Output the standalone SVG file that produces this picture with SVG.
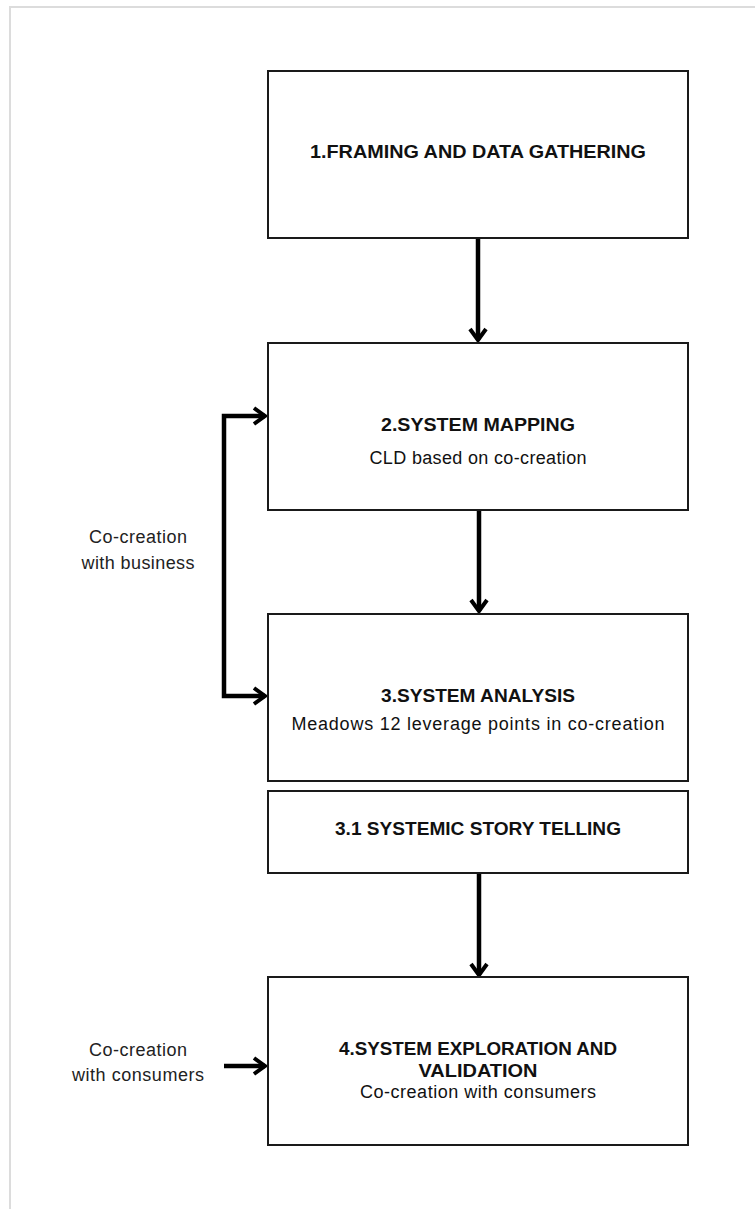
<svg xmlns="http://www.w3.org/2000/svg" width="755" height="1209" viewBox="0 0 755 1209">
  <defs>
    <style>
      .frame { fill: none; stroke: #dcdcdc; stroke-width: 2; }
      .box { fill: #ffffff; stroke: #1a1a1a; stroke-width: 2; }
      .title { font-family: "Liberation Sans", Arial, sans-serif; font-weight: bold; font-size: 17.5px; fill: #111; text-anchor: middle; }
      .sub { font-family: "Liberation Sans", Arial, sans-serif; font-size: 18px; fill: #111; text-anchor: middle; }
      .side { font-family: "Liberation Sans", Arial, sans-serif; font-size: 18px; fill: #222; text-anchor: middle; }
      .wire { fill: none; stroke: #000; stroke-width: 4.5; }
    </style>
    <!-- open chevron arrowhead -->
    <marker id="chev" viewBox="0 0 20 20" refX="16" refY="10" markerWidth="20" markerHeight="20" markerUnits="userSpaceOnUse" orient="auto-start-reverse">
      <path d="M5,2 L16,10 L5,18" fill="none" stroke="#000" stroke-width="4" stroke-linejoin="miter"/>
    </marker>
  </defs>

  <!-- page frame -->
  <path class="frame" d="M10,1209 L10,7 L755,7"/>

  <!-- connectors -->
  <g id="connectors">
    <line class="wire" x1="478" y1="239" x2="478" y2="340" marker-end="url(#chev)"/>
    <line class="wire" x1="479" y1="511" x2="479" y2="611" marker-end="url(#chev)"/>
    <line class="wire" x1="479" y1="874" x2="479" y2="975" marker-end="url(#chev)"/>
    <path class="wire" d="M265,416 L224,416 L224,696 L265,696" marker-start="url(#chev)" marker-end="url(#chev)"/>
    <line class="wire" x1="224" y1="1066" x2="265" y2="1066" marker-end="url(#chev)"/>
  </g>

  <g id="node-1">
    <rect class="box" x="268" y="71" width="420" height="167"/>
    <text class="title" x="478" y="158" textLength="336" lengthAdjust="spacingAndGlyphs">1.FRAMING AND DATA GATHERING</text>
  </g>

  <g id="node-2">
    <rect class="box" x="268" y="343" width="420" height="167"/>
    <text class="title" x="478" y="431" textLength="194" lengthAdjust="spacingAndGlyphs">2.SYSTEM MAPPING</text>
    <text class="sub" x="478" y="464" textLength="217">CLD based on co-creation</text>
  </g>

  <g id="node-3">
    <rect class="box" x="268" y="614" width="420" height="167"/>
    <text class="title" x="478" y="702" textLength="194" lengthAdjust="spacingAndGlyphs">3.SYSTEM ANALYSIS</text>
    <text class="sub" x="478" y="730" textLength="373">Meadows 12 leverage points in co-creation</text>
  </g>

  <g id="node-3-1">
    <rect class="box" x="268" y="791" width="420" height="82"/>
    <text class="title" x="478" y="835" textLength="286" lengthAdjust="spacingAndGlyphs">3.1 SYSTEMIC STORY TELLING</text>
  </g>

  <g id="node-4">
    <rect class="box" x="268" y="977" width="420" height="168"/>
    <text class="title" x="478" y="1055" textLength="278" lengthAdjust="spacingAndGlyphs">4.SYSTEM EXPLORATION AND</text>
    <text class="title" x="478" y="1077" textLength="119" lengthAdjust="spacingAndGlyphs">VALIDATION</text>
    <text class="sub" x="478" y="1098" textLength="236">Co-creation with consumers</text>
  </g>

  <g id="label-business">
    <text class="side" x="138" y="543" textLength="98">Co-creation</text>
    <text class="side" x="138" y="569" textLength="113">with business</text>
  </g>

  <g id="label-consumers">
    <text class="side" x="138" y="1056" textLength="98">Co-creation</text>
    <text class="side" x="138" y="1081" textLength="132">with consumers</text>
  </g>
</svg>
